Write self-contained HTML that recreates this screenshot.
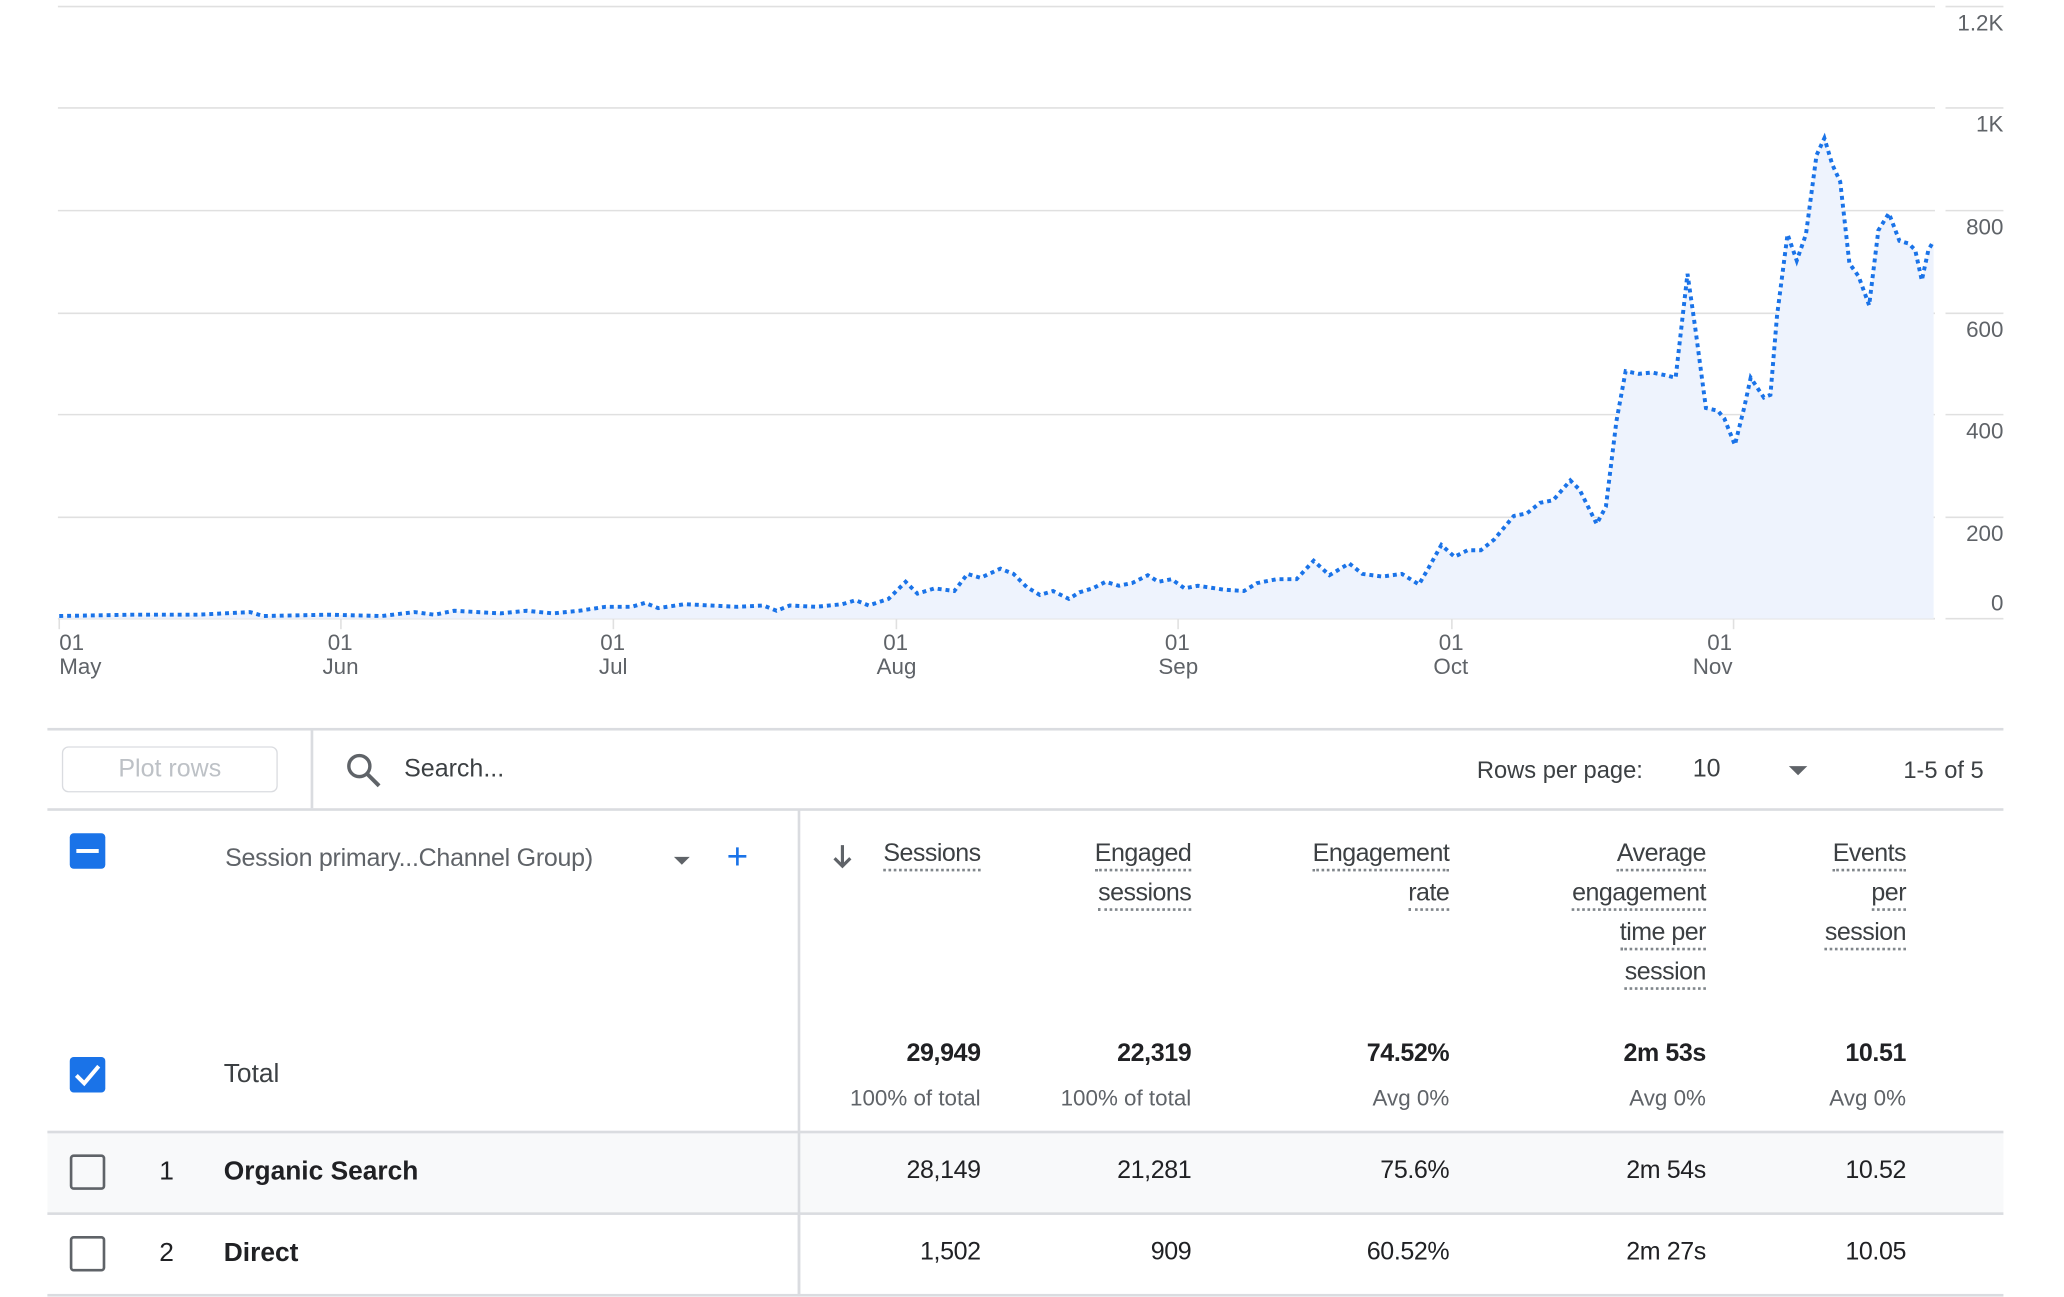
<!DOCTYPE html>
<html><head><meta charset="utf-8"><style>
html,body{margin:0;padding:0;background:#fff;width:2064px;height:1296px;overflow:hidden}
#s{position:absolute;left:0;top:0;width:1552px;height:985px;transform:scale(1.3163);transform-origin:0 0;font-family:"Liberation Sans",sans-serif;color:#202124}
.t{position:absolute;white-space:nowrap;line-height:1}
.h{position:absolute;white-space:nowrap;font-size:19px;color:#3c4043;text-align:right;line-height:30px;letter-spacing:-0.4px}
.h span{border-bottom:2px dotted #80868b;padding-bottom:1px}
.v{position:absolute;font-size:19px;text-align:right;letter-spacing:-0.3px;line-height:1}
.sub{position:absolute;font-size:17px;color:#5f6368;text-align:right;line-height:1}
.line{position:absolute;left:36px;width:1486px;height:1.5px;background:#dadce0}
.cb{position:absolute;left:53px;width:27px;height:27px;box-sizing:border-box;border-radius:3px}
</style></head><body><div id="s">
<svg width="1552" height="540" style="position:absolute;left:0;top:0">
<g stroke="#e0e0e0" stroke-width="1.2">
<line x1="44" y1="5" x2="1470" y2="5"/><line x1="44" y1="82" x2="1470" y2="82"/><line x1="44" y1="160" x2="1470" y2="160"/><line x1="44" y1="238" x2="1470" y2="238"/><line x1="44" y1="315" x2="1470" y2="315"/><line x1="44" y1="393" x2="1470" y2="393"/><line x1="44" y1="470" x2="1470" y2="470"/>
<line x1="1478" y1="5" x2="1522" y2="5"/><line x1="1478" y1="82" x2="1522" y2="82"/><line x1="1478" y1="160" x2="1522" y2="160"/><line x1="1478" y1="238" x2="1522" y2="238"/><line x1="1478" y1="315" x2="1522" y2="315"/><line x1="1478" y1="393" x2="1522" y2="393"/><line x1="1478" y1="470" x2="1522" y2="470"/>
<line x1="45" y1="470" x2="45" y2="478"/><line x1="259" y1="470" x2="259" y2="478"/><line x1="466" y1="470" x2="466" y2="478"/><line x1="681" y1="470" x2="681" y2="478"/><line x1="895" y1="470" x2="895" y2="478"/><line x1="1103" y1="470" x2="1103" y2="478"/><line x1="1317" y1="470" x2="1317" y2="478"/>
</g>
<g font-family="Liberation Sans" font-size="17" fill="#5f6368" text-anchor="end">
<text x="1522" y="23">1.2K</text><text x="1522" y="100">1K</text><text x="1522" y="178">800</text><text x="1522" y="256">600</text><text x="1522" y="333">400</text><text x="1522" y="411">200</text><text x="1522" y="464">0</text>
</g>
<g font-family="Liberation Sans" font-size="17" fill="#5f6368">
<text x="45" y="494">01</text><text x="45" y="512">May</text>
<text x="249" y="494">01</text><text x="245" y="512">Jun</text>
<text x="456" y="494">01</text><text x="455" y="512">Jul</text>
<text x="671" y="494">01</text><text x="666" y="512">Aug</text>
<text x="885" y="494">01</text><text x="880" y="512">Sep</text>
<text x="1093" y="494">01</text><text x="1089" y="512">Oct</text>
<text x="1297" y="494">01</text><text x="1286" y="512">Nov</text>
</g>
<polygon fill="#eef3fd" points="45,470 45,468 100,467 150,467 190,465 200,468 250,467 290,468 315,465 330,467 345,464 380,466 400,464 420,466 440,464 460,461 480,461 490,458 500,462 520,459 540,460 560,461 580,460 590,464 600,460 620,461 640,459 650,456 660,460 675,455 688,442 697,451 710,447 725,449 735,436 745,439 760,432 770,436 780,446 790,452 800,449 812,455 820,450 830,447 840,442 850,445 860,443 872,437 880,442 890,440 900,447 910,445 930,448 945,449 955,443 970,440 985,440 998,426 1010,437 1025,428 1035,436 1050,438 1065,436 1078,444 1085,432 1095,414 1105,423 1115,418 1125,418 1135,410 1150,392 1160,390 1170,382 1180,380 1193,365 1200,372 1213,398 1220,385 1228,320 1235,282 1245,284 1255,283 1265,285 1273,287 1282,208 1288,250 1296,310 1305,312 1310,318 1318,338 1325,310 1330,287 1340,302 1345,300 1350,240 1358,178 1365,198 1372,178 1380,118 1386,105 1392,125 1398,138 1405,200 1412,210 1420,232 1427,175 1435,162 1443,183 1450,185 1455,190 1460,213 1465,190 1469,183 1469,470"/>
<polyline fill="none" stroke="#1a73e8" stroke-width="3" stroke-dasharray="3 3" points="45,468 100,467 150,467 190,465 200,468 250,467 290,468 315,465 330,467 345,464 380,466 400,464 420,466 440,464 460,461 480,461 490,458 500,462 520,459 540,460 560,461 580,460 590,464 600,460 620,461 640,459 650,456 660,460 675,455 688,442 697,451 710,447 725,449 735,436 745,439 760,432 770,436 780,446 790,452 800,449 812,455 820,450 830,447 840,442 850,445 860,443 872,437 880,442 890,440 900,447 910,445 930,448 945,449 955,443 970,440 985,440 998,426 1010,437 1025,428 1035,436 1050,438 1065,436 1078,444 1085,432 1095,414 1105,423 1115,418 1125,418 1135,410 1150,392 1160,390 1170,382 1180,380 1193,365 1200,372 1213,398 1220,385 1228,320 1235,282 1245,284 1255,283 1265,285 1273,287 1282,208 1288,250 1296,310 1305,312 1310,318 1318,338 1325,310 1330,287 1340,302 1345,300 1350,240 1358,178 1365,198 1372,178 1380,118 1386,105 1392,125 1398,138 1405,200 1412,210 1420,232 1427,175 1435,162 1443,183 1450,185 1455,190 1460,213 1465,190 1469,183"/>
</svg>

<div class="line" style="top:553px"></div>
<div style="position:absolute;left:47px;top:567px;width:164px;height:35px;box-sizing:border-box;border:1.5px solid #dadce0;border-radius:5px;color:#bdc1c6;font-size:19px;text-align:center;line-height:33px">Plot rows</div>
<div style="position:absolute;left:236px;top:554px;width:1.5px;height:60px;background:#dadce0"></div>
<svg style="position:absolute;left:262px;top:571px" width="30" height="30"><circle cx="11" cy="11" r="8" fill="none" stroke="#5f6368" stroke-width="2.6"/><line x1="17" y1="17" x2="26" y2="26" stroke="#5f6368" stroke-width="3"/></svg>
<div class="t" style="left:307px;top:575px;font-size:19px;color:#3c4043">Search...</div>
<div class="t" style="left:1122px;top:576px;font-size:18px;color:#3c4043">Rows per page:</div>
<div class="t" style="left:1286px;top:575px;font-size:19px;color:#3c4043">10</div>
<div style="position:absolute;left:1359px;top:582px;border-left:7px solid transparent;border-right:7px solid transparent;border-top:7px solid #5f6368"></div>
<div class="t" style="left:1446px;top:576px;font-size:18px;color:#3c4043">1-5 of 5</div>
<div class="line" style="top:614px"></div>
<div style="position:absolute;left:606px;top:615px;width:1.5px;height:370px;background:#dadce0"></div>

<div class="cb" style="top:633px;background:#1a73e8"><div style="position:absolute;left:5px;top:11.5px;width:17px;height:3px;background:#fff"></div></div>
<div class="t" style="left:171px;top:643px;font-size:19px;color:#5f6368;letter-spacing:-0.2px">Session primary...Channel Group)</div>
<div style="position:absolute;left:512px;top:651px;border-left:6px solid transparent;border-right:6px solid transparent;border-top:6px solid #5f6368"></div>
<div class="t" style="left:552px;top:637px;font-size:28px;color:#1a73e8">+</div>

<svg style="position:absolute;left:631px;top:640px" width="18" height="22"><line x1="9" y1="2" x2="9" y2="18" stroke="#5f6368" stroke-width="2.4"/><polyline points="3,12 9,18 15,12" fill="none" stroke="#5f6368" stroke-width="2.4"/></svg>
<div class="h" style="right:807px;top:634px"><span>Sessions</span></div>
<div class="h" style="right:647px;top:634px"><span>Engaged</span><br><span>sessions</span></div>
<div class="h" style="right:451px;top:634px"><span>Engagement</span><br><span>rate</span></div>
<div class="h" style="right:256px;top:634px"><span>Average</span><br><span>engagement</span><br><span>time per</span><br><span>session</span></div>
<div class="h" style="right:104px;top:634px"><span>Events</span><br><span>per</span><br><span>session</span></div>

<div class="cb" style="top:803px;background:#1a73e8"><svg width="27" height="27" style="position:absolute;left:0;top:0"><polyline points="5,14 11,20 22,7" fill="none" stroke="#fff" stroke-width="3"/></svg></div>
<div class="t" style="left:170px;top:806px;font-size:20px;color:#3c4043">Total</div>
<div class="v" style="right:807px;top:791px;font-weight:bold">29,949</div>
<div class="v" style="right:647px;top:791px;font-weight:bold">22,319</div>
<div class="v" style="right:451px;top:791px;font-weight:bold">74.52%</div>
<div class="v" style="right:256px;top:791px;font-weight:bold">2m 53s</div>
<div class="v" style="right:104px;top:791px;font-weight:bold">10.51</div>
<div class="sub" style="right:807px;top:826px">100% of total</div>
<div class="sub" style="right:647px;top:826px">100% of total</div>
<div class="sub" style="right:451px;top:826px">Avg 0%</div>
<div class="sub" style="right:256px;top:826px">Avg 0%</div>
<div class="sub" style="right:104px;top:826px">Avg 0%</div>

<div style="position:absolute;left:36px;top:860px;width:1486px;height:61px;background:#f8f9fa"></div>
<div style="position:absolute;left:606px;top:860px;width:1.5px;height:124px;background:#dadce0"></div>
<div class="line" style="top:859px"></div>
<div class="cb" style="top:877px;border:2.5px solid #5f6368"></div>
<div class="t" style="left:121px;top:880px;font-size:20px">1</div>
<div class="t" style="left:170px;top:880px;font-size:20px;font-weight:bold">Organic Search</div>
<div class="v" style="right:807px;top:880px">28,149</div>
<div class="v" style="right:647px;top:880px">21,281</div>
<div class="v" style="right:451px;top:880px">75.6%</div>
<div class="v" style="right:256px;top:880px">2m 54s</div>
<div class="v" style="right:104px;top:880px">10.52</div>
<div class="line" style="top:921px"></div>
<div class="cb" style="top:939px;border:2.5px solid #5f6368"></div>
<div class="t" style="left:121px;top:942px;font-size:20px">2</div>
<div class="t" style="left:170px;top:942px;font-size:20px;font-weight:bold">Direct</div>
<div class="v" style="right:807px;top:942px">1,502</div>
<div class="v" style="right:647px;top:942px">909</div>
<div class="v" style="right:451px;top:942px">60.52%</div>
<div class="v" style="right:256px;top:942px">2m 27s</div>
<div class="v" style="right:104px;top:942px">10.05</div>
<div class="line" style="top:983px"></div>
</div></body></html>
